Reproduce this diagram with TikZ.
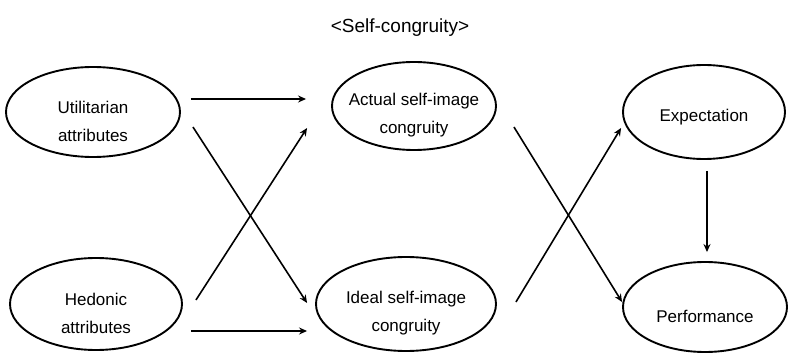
\documentclass[tikz,border=0pt]{standalone}
\usepackage{fontspec}
\setmainfont{Liberation Sans}
\usetikzlibrary{arrows.meta,positioning,shapes.geometric}

\begin{document}
\begin{tikzpicture}[x=1pt,y=1pt,
    construct/.style={draw,ellipse,line width=1.9pt,inner sep=0pt},
    caption/.style={align=center,yshift=-9pt,font=\fontsize{17}{28}\selectfont},
    path/.style={-{Stealth[length=8pt,width=7pt]},line width=1.6pt}]
    \useasboundingbox (0,0) rectangle (788,354);

    \node (title) at (400,326) {\fontsize{19}{22}\selectfont <Self-congruity>};

    \node[construct,minimum width=174pt,minimum height=90pt,label={[caption]center:{Utilitarian\\attributes}}] (util) at (93,242) {};
    \node[construct,minimum width=172pt,minimum height=92pt,label={[caption]center:{Hedonic\\attributes}}] (hed) at (96,50) {};

    \node[construct,minimum width=164pt,minimum height=88pt,label={[caption]center:{Actual self-image\\congruity}}] (act) at (414,248) {};
    \node[construct,minimum width=180pt,minimum height=94pt,label={[caption]center:{Ideal self-image\\congruity}}] (ideal) at (406,50) {};

    \node[construct,minimum width=162pt,minimum height=94pt,label={[caption,yshift=4pt]center:Expectation}] (expect) at (704,242) {};
    \node[construct,minimum width=164pt,minimum height=90pt,label={[caption]center:Performance}] (perf) at (705,47) {};

    \draw[path] ([shift={(10,13)}]util.east) -- ([shift={(-25,7)}]act.west);
    \draw[path] ([shift={(12,-15)}]util.east) -- ([shift={(-8,1)}]ideal.west);
    \draw[path] ([shift={(13,4)}]hed.east) -- ([shift={(-24,-22)}]act.west);
    \draw[path] ([shift={(8,-27)}]hed.east) -- ([shift={(-8,-27)}]ideal.west);

    \draw[path] ([shift={(17,-21)}]act.east) -- ([shift={(0,5)}]perf.west);
    \draw[path] ([shift={(19,2)}]ideal.east) -- ([shift={(-1,-16)}]expect.west);
    \draw[path] ([shift={(3,-11)}]expect.south) -- ([shift={(2,9)}]perf.north);
\end{tikzpicture}
\end{document}
